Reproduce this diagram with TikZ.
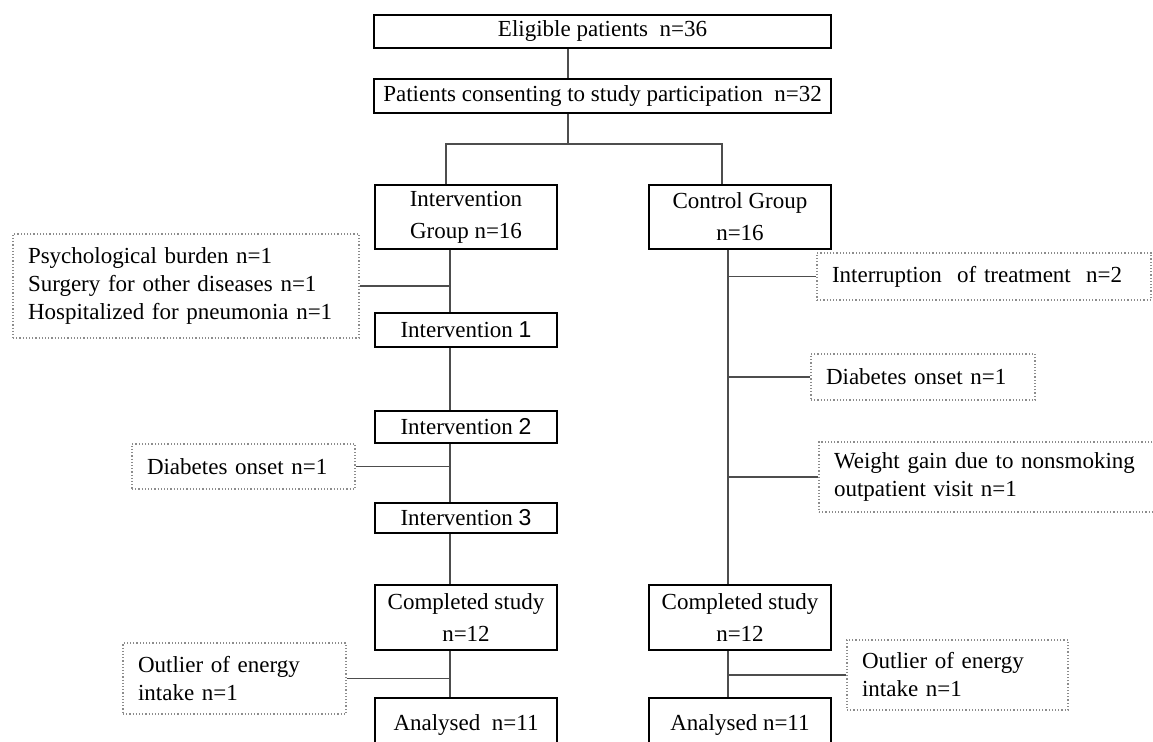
\documentclass[tikz,border=0pt]{standalone}
\usepackage{fontspec}
\setmainfont{Liberation Serif}
\newfontfamily\digitfont{Liberation Sans}
\usepackage{tikz}
\usetikzlibrary{positioning, calc}
\definecolor{LineGray}{HTML}{4D4D4D}
\definecolor{DotGray}{HTML}{8C8C8C}

\begin{document}
\begin{tikzpicture}[x=0.5pt, y=-0.5pt, font=\fontsize{11.5}{16}\selectfont,
    mainbox/.style={draw=black, line width=0.8pt, minimum width=91pt, inner sep=0pt, align=center},
    thickbox/.style={mainbox, line width=1.2pt},
    lossbox/.style={draw=DotGray, densely dotted, line width=0.6pt, inner xsep=7.5pt, inner ysep=0pt,
                    align=left, font=\fontsize{11.5}{14}\selectfont},
    link/.style={draw=LineGray, line width=0.7pt}]
    \useasboundingbox (0,0) rectangle (1153,742);
    \clip (0,0) rectangle (1153,742);

    % Main flow
    \node (elig) [mainbox, minimum width=228.5pt, minimum height=16.5pt] at (602.5,31.5) {Eligible patients\ \ n=36};
    \node (consent) [mainbox, minimum width=228.5pt, minimum height=17pt] at (602.5,96) {Patients consenting to study participation\ \ n=32};
    \node (igroup) [mainbox, minimum height=32pt] at (466,217) {Intervention\\Group n=16};
    \node (cgroup) [mainbox, minimum height=32pt] at (740,217) {Control Group\\n=16};
    \node (int1) [thickbox, minimum height=17pt] at (466,330) {Intervention {\digitfont 1}};
    \node (int2) [thickbox, minimum height=16pt] at (466,427) {Intervention {\digitfont 2}};
    \node (int3) [thickbox, minimum height=15pt] at (466,518) {Intervention {\digitfont 3}};
    \node (icomp) [mainbox, minimum height=32.5pt] at (466,617.5) {Completed study\\n=12};
    \node (ccomp) [mainbox, minimum height=32.5pt] at (740,617.5) {Completed study\\n=12};
    \node (iana) [thickbox, minimum height=27pt] at (466,725) {Analysed\ \ n=11};
    \node (cana) [mainbox, minimum height=27pt] at (740,725) {Analysed n=11};

    % Drop-outs
    \node (lossA) [lossbox, text width=158pt, minimum height=52pt] at (186,286)
        {Psychological burden n=1\\Surgery for other diseases n=1\\Hospitalized for pneumonia n=1};
    \node (lossB) [lossbox, text width=96.5pt, minimum height=22.5pt] at (243.5,466.5) {Diabetes onset n=1};
    \node (lossC) [lossbox, text width=96.5pt, minimum height=35.5pt] at (234.5,678.5) {Outlier of energy\\intake n=1};
    \node (lossD) [lossbox, text width=152pt, minimum height=23.5pt] at (984,276.5) {Interruption\ \ of treatment\ \ n=2};
    \node (lossE) [lossbox, text width=97pt, minimum height=23pt] at (923,377) {Diabetes onset n=1};
    \node (lossF) [lossbox, text width=158pt, minimum height=35pt] at (992,477) {Weight gain due to nonsmoking\\outpatient visit n=1};
    \node (lossG) [lossbox, text width=95.5pt, minimum height=35pt] at (957.5,675) {Outlier of energy\\intake n=1};

    % Paths
    \coordinate (topstem) at (568,0);
    \coordinate (forkL) at (446,144);
    \coordinate (forkR) at (722,144);
    \coordinate (trunkI) at (450,0);
    \coordinate (trunkC) at (728,0);
    \draw[link] (elig.south -| topstem) -- (consent.north -| topstem);
    \draw[link] (consent.south -| topstem) -- (forkL -| topstem);
    \draw[link] (igroup.north -| forkL) -- (forkL) -- (forkR) -- (cgroup.north -| forkR);

    \draw[link] (igroup.south -| trunkI) -- (int1.north -| trunkI);
    \draw[link] (int1.south -| trunkI) -- (int2.north -| trunkI);
    \draw[link] (int2.south -| trunkI) -- (int3.north -| trunkI);
    \draw[link] (int3.south -| trunkI) -- (icomp.north -| trunkI);
    \draw[link] (icomp.south -| trunkI) -- (iana.north -| trunkI);
    \foreach \loss in {lossA, lossB, lossC}
        \draw[link] (\loss.east) -- (\loss.east -| trunkI);

    \draw[link] (cgroup.south -| trunkC) -- (ccomp.north -| trunkC);
    \draw[link] (ccomp.south -| trunkC) -- (cana.north -| trunkC);
    \foreach \loss in {lossD, lossE, lossF, lossG}
        \draw[link] (\loss.west -| trunkC) -- (\loss.west);
\end{tikzpicture}
\end{document}
